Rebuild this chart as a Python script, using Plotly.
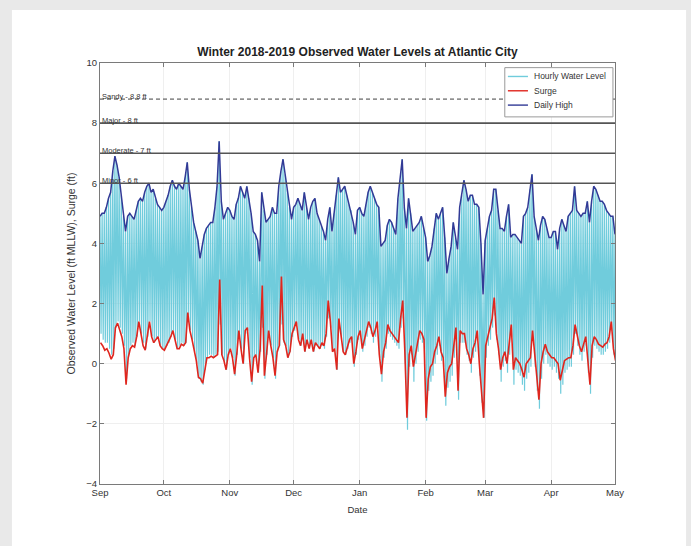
import pandas as pd
import plotly.graph_objects as go

start_date = "2018-09-01"
n_days = 243

# Daily high water level (ft MLLW), Sep 1 2018 .. May 1 2019
daily_high = [
    4.9, 5.0, 5.0, 5.2, 5.5, 5.7, 6.4, 6.9, 6.6, 6.2,
    5.6, 4.9, 4.4, 4.9, 5.0, 4.9, 4.8, 5.1, 5.4, 5.5,
    5.4, 5.7, 5.9, 6.0, 5.7, 5.8, 5.5, 5.3, 5.2, 5.1,
    5.2, 5.4, 5.6, 5.9, 6.1, 5.9, 5.8, 6.0, 5.9, 5.8,
    6.2, 6.7, 5.8, 5.2, 4.7, 4.4, 4.1, 3.5, 3.9, 4.3,
    4.5, 4.6, 4.7, 4.7, 5.2, 5.9, 7.4, 5.4, 4.8, 5.0,
    5.2, 5.1, 4.9, 4.8, 5.3, 5.5, 5.9, 5.7, 5.5, 5.9,
    5.5, 5.0, 4.4, 4.3, 4.1, 3.4, 5.7, 5.1, 4.7, 4.8,
    4.9, 5.2, 5.0, 5.0, 5.9, 6.4, 6.8, 6.3, 5.8, 5.2,
    4.8, 5.2, 5.3, 5.5, 5.3, 5.1, 5.7, 5.2, 4.8, 5.2,
    5.4, 5.5, 5.0, 4.8, 4.6, 4.4, 4.1, 4.8, 5.2, 4.4,
    5.0, 5.6, 6.2, 5.7, 5.8, 5.9, 5.6, 5.3, 5.1, 4.7,
    4.3, 5.1, 5.2, 5.0, 4.9, 5.3, 5.7, 5.9, 5.7, 5.5,
    5.3, 5.2, 3.9, 4.0, 4.1, 4.6, 4.8, 4.7, 4.5, 4.3,
    5.5, 6.1, 6.8, 5.2, 4.5, 5.5, 5.0, 4.4, 4.5, 4.6,
    4.7, 4.9, 4.6, 4.2, 3.4, 3.6, 3.9, 4.5, 5.0, 4.8,
    5.0, 5.2, 4.2, 3.0, 3.5, 3.9, 4.7, 4.2, 3.8, 5.2,
    5.6, 6.1, 5.8, 5.4, 5.6, 5.6, 5.3, 5.3, 5.2, 4.0,
    2.3, 4.1, 4.5, 4.9, 5.1, 5.8, 5.8, 5.1, 4.5, 4.5,
    4.4, 4.9, 5.3, 4.2, 4.3, 4.3, 4.2, 4.1, 4.0, 4.9,
    5.0, 5.2, 5.8, 6.3, 4.9, 4.5, 4.1, 4.6, 4.9, 4.8,
    4.5, 4.2, 4.2, 4.4, 4.4, 3.8, 4.5, 4.8, 4.6, 4.4,
    4.9, 5.0, 5.1, 5.9, 5.1, 5.0, 4.9, 5.0, 5.0, 5.4,
    4.7, 5.4, 5.9, 5.8, 5.6, 5.4, 5.4, 5.3, 5.1, 5.0,
    4.9, 4.9, 4.3,
]

# Daily low water level (ft MLLW)
daily_low = [
    1.0, 0.8, 0.7, 0.7, 0.5, 0.3, 0.5, 1.2, 1.4, 1.2,
    1.0, 0.6, -0.5, 0.3, 0.6, 0.7, 0.6, 0.9, 1.4, 1.0,
    0.7, 0.5, 0.9, 1.4, 0.9, 0.7, 0.8, 0.9, 0.6, 0.5,
    0.5, 0.6, 0.7, 0.9, 1.1, 0.8, 0.5, 0.6, 0.7, 0.6,
    0.7, 1.6, 1.1, 0.8, 0.4, 0.0, -0.5, -0.6, -0.7, -0.2,
    0.2, 0.3, 0.3, 0.2, 0.3, 0.4, 1.3, 0.3, 0.1, -0.2,
    0.3, 0.5, 0.2, -0.4, 0.3, 1.0, 0.5, 0.0, 1.0, 1.1,
    0.2, -0.7, 0.2, 0.3, -0.3, 0.4, 1.2, -0.5, 0.3, 1.0,
    0.6, 0.2, -0.5, 0.4, 0.6, 1.3, 0.7, 0.6, 0.2, 0.4,
    0.9, 1.1, 1.3, 0.8, 0.6, 0.9, 0.4, 0.7, 0.5, 0.7,
    0.4, 0.6, 0.6, 0.5, 0.6, 0.5, 0.9, 1.5, 1.2, 0.4,
    0.5, -0.2, 1.3, 0.8, 0.4, 0.3, 0.5, 0.7, 0.8, -0.1,
    0.3, 0.8, 0.9, 0.4, 0.6, 0.9, 1.2, 1.0, 0.7, 0.9,
    1.2, 0.2, -0.6, 0.2, 0.5, 1.0, 0.9, 0.8, 0.7, 0.6,
    0.5, 1.2, 1.5, 0.0, -2.2, -0.1, 0.3, -0.6, 0.0, 0.4,
    0.8, 0.7, 0.5, -1.9, -0.9, -0.6, -0.4, 0.0, 0.3, 0.6,
    0.1, -0.1, -1.4, -0.8, -0.6, -0.4, 0.2, 0.8, -1.2, 0.7,
    0.7, 0.7, 0.3, 0.1, -0.3, 0.2, 0.4, 0.8, -0.4, -1.3,
    -1.8, 0.2, 0.6, 0.8, 1.2, 1.6, 0.8, 0.3, -0.6, -0.1,
    0.1, -0.3, 0.3, 0.9, -0.7, -0.2, -0.3, -0.4, -0.7, -0.9,
    -0.5, -0.3, -0.1, 0.8, -0.1, -0.9, -1.5, -0.5, 0.0, 0.3,
    0.0, -0.1, -0.2, -0.1, -0.3, -0.5, -1.0, -0.7, -0.3, -0.2,
    -0.1, -0.1, 0.3, 1.0, 0.6, 0.3, 0.1, 0.4, 0.6, -0.3,
    -1.0, 0.2, 0.6, 0.5, 0.4, 0.3, 0.3, 0.4, 0.5, 0.7,
    1.1, 0.3, -0.1,
]

# Daily surge (ft)
surge = [
    0.7, 0.6, 0.45, 0.5, 0.35, 0.15, 0.3, 1.2, 1.35, 1.1,
    0.9, 0.5, -0.7, 0.2, 0.5, 0.6, 0.55, 0.9, 1.4, 1.0,
    0.6, 0.45, 0.9, 1.4, 0.9, 0.7, 0.8, 0.9, 0.6, 0.5,
    0.45, 0.6, 0.7, 0.9, 1.1, 0.8, 0.5, 0.5, 0.65, 0.6,
    0.7, 1.7, 1.1, 0.8, 0.45, 0.1, -0.45, -0.5, -0.65, -0.2,
    0.2, 0.2, 0.25, 0.2, 0.25, 0.3, 2.8, 0.3, 0.1, -0.2,
    0.3, 0.5, 0.2, -0.35, 0.3, 1.1, 0.5, 0.0, 1.1, 1.2,
    0.2, -0.6, 0.2, 0.3, -0.3, 0.5, 2.6, -0.4, 0.3, 1.1,
    0.6, 0.2, -0.4, 0.4, 0.6, 2.9, 0.8, 0.6, 0.2, 0.4,
    1.0, 1.2, 1.4, 0.8, 0.6, 1.0, 0.4, 0.8, 0.5, 0.8,
    0.4, 0.7, 0.6, 0.5, 0.7, 0.6, 1.0, 2.1, 1.4, 0.4,
    0.5, -0.2, 1.5, 0.9, 0.4, 0.3, 0.6, 0.8, 0.9, 0.0,
    0.4, 0.9, 1.1, 0.5, 0.8, 1.1, 1.4, 1.2, 0.9, 1.1,
    1.4, 0.3, -0.35, 0.4, 0.7, 1.3, 1.1, 1.0, 0.9, 0.8,
    0.7, 1.5, 2.1, 0.4, -1.8, 0.3, 0.6, -0.1, 0.3, 0.7,
    1.1, 1.0, 0.8, -1.8, -0.5, -0.1, 0.0, 0.4, 0.6, 0.9,
    0.4, 0.2, -1.1, -0.3, -0.1, 0.0, 0.6, 1.2, -0.9, 1.1,
    1.0, 1.0, 0.5, 0.3, 0.0, 0.5, 0.7, 1.1, 0.0, -1.0,
    -1.8, 0.6, 0.9, 1.1, 1.5, 2.2, 1.0, 0.5, -0.2, 0.2,
    0.4, 0.0, 0.6, 1.3, -0.2, 0.2, 0.1, 0.0, -0.2, -0.45,
    0.0, 0.1, 0.2, 1.1, 0.3, -0.45, -1.2, 0.0, 0.4, 0.65,
    0.4, 0.3, 0.2, 0.2, 0.1, 0.0, -0.55, -0.2, 0.1, 0.15,
    0.2, 0.2, 0.6, 1.3, 0.9, 0.6, 0.4, 0.7, 0.9, 0.1,
    -0.7, 0.6, 0.9, 0.8, 0.65, 0.6, 0.55, 0.65, 0.7, 0.9,
    1.4, 0.5, 0.1,
]

flood_levels = [8.8, 8.0, 7.0, 6.0]
flood_labels = ["Sandy - 8.8 ft", "Major - 8 ft", "Moderate - 7 ft", "Minor - 6 ft"]
flood_dash = ["4px,3px", "solid", "solid", "solid"]

month_ticks = ["2018-09-01", "2018-10-01", "2018-11-01", "2018-12-01", "2019-01-01",
               "2019-02-01", "2019-03-01", "2019-04-01", "2019-05-01"]
month_labels = ["Sep", "Oct", "Nov", "Dec", "Jan", "Feb", "Mar", "Apr", "May"]

series_names = ["Hourly Water Level", "Surge", "Daily High"]
series_colors = ["rgb(112,204,220)", "rgb(224,38,30)", "rgb(50,58,150)"]
series_widths = [1.2, 1.6, 1.5]

days = pd.date_range(start_date, periods=n_days, freq="D")

# hourly-style trace: alternates high and low tide each day
hx, hy = [], []
for d, hi, lo in zip(days, daily_high, daily_low):
    hx += [d, d + pd.Timedelta(hours=12)]
    hy += [hi, lo]

fig = go.Figure()
fig.add_trace(go.Scatter(x=hx, y=hy, mode="lines", name=series_names[0],
                         line=dict(color=series_colors[0], width=series_widths[0])))
fig.add_trace(go.Scatter(x=[d + pd.Timedelta(hours=6) for d in days], y=surge, mode="lines",
                         name=series_names[1], line=dict(color=series_colors[1], width=series_widths[1])))
fig.add_trace(go.Scatter(x=days, y=daily_high, mode="lines", name=series_names[2],
                         line=dict(color=series_colors[2], width=series_widths[2])))

for lev, lab, dsh in zip(flood_levels, flood_labels, flood_dash):
    fig.add_shape(type="line", xref="paper", x0=0, x1=1, yref="y", y0=lev, y1=lev,
                  line=dict(color="#404040" if dsh != "solid" else "#555555",
                            width=1 if dsh != "solid" else 1.6, dash=dsh))
    fig.add_annotation(xref="paper", x=0.0, y=lev, yref="y", text=lab, showarrow=False,
                       xanchor="left", yanchor="bottom", yshift=-4,
                       font=dict(size=7.5, color="#333333", family="Liberation Sans"))

# compact legend box (MATLAB style)
fig.add_shape(type="rect", xref="paper", yref="paper", x0=0.786, x1=0.996, y0=0.872, y1=0.989,
              fillcolor="white", line=dict(color="#9a9a9a", width=1), layer="above")
leg_y = [0.968, 0.934, 0.900]
for name, col, yy in zip(series_names, series_colors, leg_y):
    fig.add_shape(type="line", xref="paper", yref="paper", x0=0.792, x1=0.831, y0=yy, y1=yy,
                  line=dict(color=col, width=1.4), layer="above")
    fig.add_annotation(xref="paper", yref="paper", x=0.838, y=yy, text=name, showarrow=False,
                       xanchor="left", yanchor="middle",
                       font=dict(size=8.5, color="#333333", family="Liberation Sans"))

# outer white panel on gray background
fig.add_shape(type="rect", xref="paper", yref="paper", x0=-0.171, x1=1.138, y0=-0.2, y1=1.126,
              fillcolor="white", line=dict(width=0), layer="below")

axis_common = dict(showline=True, linecolor="#7a7a7a", linewidth=1, mirror="ticks",
                   ticks="inside", ticklen=4, tickcolor="#7a7a7a",
                   showgrid=True, gridcolor="#efefef", zeroline=False,
                   tickfont=dict(size=9.5, color="#333333", family="Liberation Sans"))

fig.update_layout(
    width=691, height=546,
    margin=dict(l=100, r=76, t=63, b=62),
    paper_bgcolor="#e9e9e9", plot_bgcolor="white",
    font=dict(family="Liberation Sans", color="#333333"),
    title=dict(text="<b>Winter 2018-2019 Observed Water Levels at Atlantic City</b>",
               x=0.5, xref="paper", xanchor="center", y=0.905, yref="container",
               yanchor="middle", font=dict(size=12, color="#222222")),
    showlegend=False,
    xaxis=dict(range=["2018-09-01", "2019-05-01"], tickvals=month_ticks, ticktext=month_labels,
               title=dict(text="Date", font=dict(size=9.5, color="#333333"), standoff=8),
               **axis_common),
    yaxis=dict(range=[-4, 10], dtick=2,
               title=dict(text="Observed Water Level (ft MLLW), Surge (ft)",
                          font=dict(size=10.5, color="#333333"), standoff=8),
               **axis_common),
)

fig.write_html("out.html", config={"displayModeBar": False},
               post_script="document.body.style.margin='0px';")
